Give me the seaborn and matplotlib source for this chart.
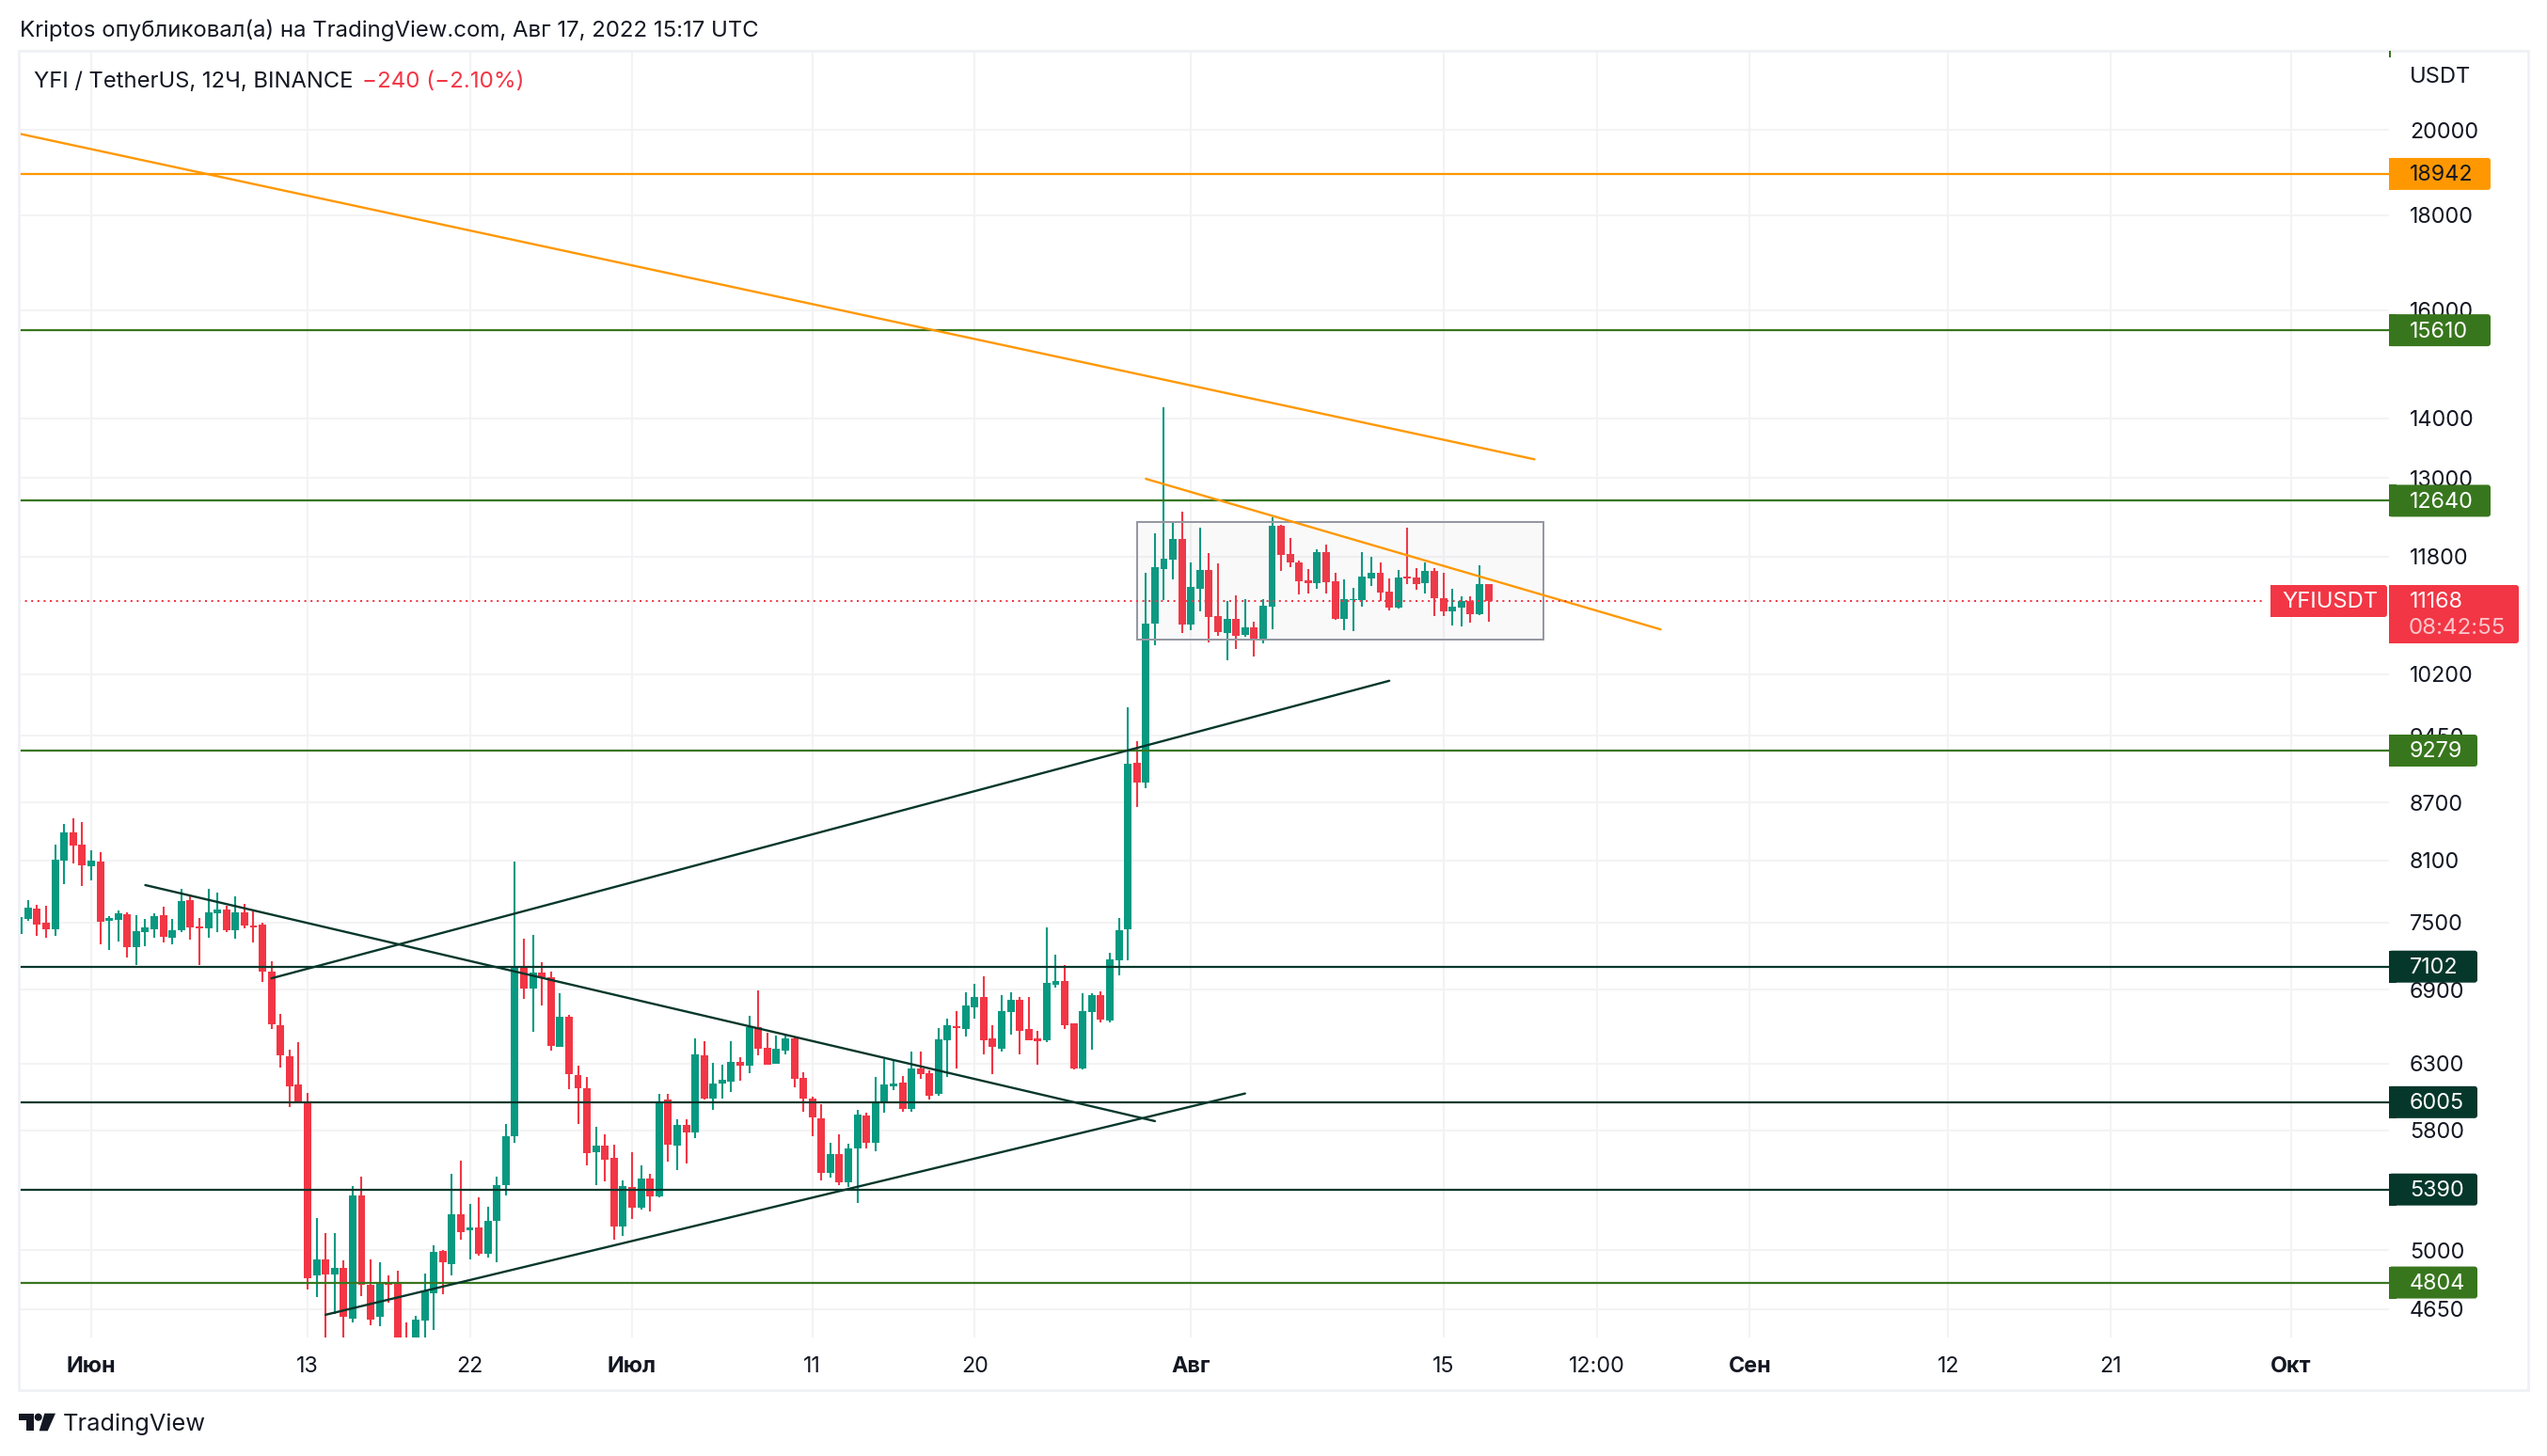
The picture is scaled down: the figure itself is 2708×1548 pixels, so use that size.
import numpy as np
import pandas as pd
import matplotlib
matplotlib.use("Agg")
import matplotlib.pyplot as plt
import seaborn as sns
from matplotlib.patches import FancyBboxPatch, Rectangle, Polygon, Circle
from matplotlib.ticker import NullLocator
from matplotlib.transforms import IdentityTransform

# candle number 0 is the Jun 1 00:00 bar, one candle = 12h
opens = [7391,7533,7631,7500,7440,8093,8387,8255,
    8044,8089,7514,7525,7576,7277,7416,7440,7569,7363,
    7433,7714,7464,7450,7587,7624,7433,7598,7471,7478,
    7058,6608,6359,6139,6006,4844,4944,4851,4892,4596,
    5352,4792,4603,4796,4803,4440,4400,4585,4743,4997,
    4916,5225,5122,5145,4980,5182,5421,5756,7091,6910,
    7051,7006,6434,6678,6209,6108,5647,5693,5607,5147,
    5408,5269,5463,5344,6024,5694,5839,5786,6363,6032,
    6144,6162,6314,6285,6592,6424,6298,6400,6497,6188,
    6034,5885,5499,5631,5437,5673,5907,5714,6004,6124,
    6151,5952,6264,6224,6069,6484,6598,6576,6753,6841,
    6500,6416,6716,6818,6576,6500,6484,6943,6977,6622,
    6258,6716,6858,6644,7158,7434,9140,8924,10859,11618,
    11757,12058,10850,11340,11604,10959,10737,10921,10708,10809,
    10658,11092,12255,11834,11712,11455,11419,11861,11441,10926,
    11180,11180,11482,11563,11297,11075,11509,11495,11414,11591,
    11206,11023,11075,11167,10984,11408]
highs = [7751,7711,7667,7660,8263,8475,8535,8495,
    8200,8181,7558,7613,7595,7569,7533,7587,7653,7533,
    7817,7762,7544,7817,7787,7660,7747,7678,7605,7496,
    7148,6700,6410,6467,6076,5202,5108,5108,4939,5416,
    5474,4944,4928,4844,4874,4574,4611,4860,5032,5000,
    5494,5588,5294,5339,5277,5476,5843,8089,7350,7384,
    7141,7058,6874,6690,6284,6194,5824,5770,5699,5450,
    5644,5555,5494,6066,6066,5880,5880,6497,6475,6303,
    6290,6475,6348,6679,6897,6543,6522,6522,6511,6232,
    6047,5992,5711,5771,5704,5949,5929,6196,6337,6329,
    6201,6395,6395,6248,6584,6657,6721,6880,6951,7018,
    6606,6855,6880,6838,6841,6560,7456,7211,7116,6624,
    6869,6872,6884,7222,7542,9789,9384,11563,12143,14192,
    12302,12472,11712,12227,11848,11699,11171,11240,11193,10884,
    11193,12384,12269,12072,11739,11617,11904,11969,11563,11468,
    11349,11861,11794,11712,11482,11604,12227,11630,11712,11630,
    11563,11336,11232,11232,11672,11408]
lows = [7339,7514,7381,7363,7381,7861,8071,7850,
    7906,7304,7250,7322,7184,7115,7284,7363,7315,7301,
    7416,7346,7115,7363,7416,7409,7356,7450,7315,6966,
    6574,6266,5970,5994,4760,4720,4490,4620,4470,4574,
    4726,4558,4552,4686,4400,4380,4380,4470,4530,4735,
    4844,5063,4942,4969,4955,4925,5349,5712,6827,6554,
    6769,6404,6431,6099,5843,5555,5421,5447,5068,5087,
    5195,5259,5244,5338,5582,5520,5569,5747,6024,5950,
    6034,6084,6167,6224,6361,6290,6296,6374,6116,5934,
    5760,5453,5467,5422,5404,5298,5673,5654,5929,6092,
    5932,5932,6178,6027,6054,6198,6264,6513,6660,6371,
    6217,6390,6530,6374,6482,6290,6465,6920,6571,6253,
    6250,6408,6630,6630,7027,7158,8657,8852,10575,11175,
    11473,10738,10775,11028,10612,10700,10381,10526,10687,10430,
    10600,10788,11595,11649,11262,11275,11340,11275,10909,10775,
    10763,11089,11379,11167,11036,11062,11400,11323,11271,10959,
    10959,10834,10821,10871,10971,10884]
closes = [7551,7642,7485,7440,8109,8387,8251,8051,
    8097,7511,7540,7587,7277,7423,7454,7562,7370,7430,
    7704,7454,7450,7598,7624,7430,7598,7471,7457,7055,
    6611,6362,6127,6006,4828,4944,4851,4892,4603,5352,
    4792,4591,4803,4788,4430,4410,4591,4750,4992,4925,
    5225,5115,5145,4978,5187,5421,5759,7098,6910,7048,
    7009,6440,6678,6215,6108,5641,5693,5594,5150,5416,
    5272,5461,5346,6014,5699,5837,5781,6369,6034,6144,
    6175,6314,6285,6592,6418,6292,6416,6500,6183,6034,
    5890,5499,5631,5437,5670,5914,5714,6004,6139,6144,
    5952,6261,6217,6054,6492,6606,6579,6770,6841,6484,
    6427,6721,6818,6562,6484,6475,6960,6977,6606,6258,
    6721,6858,6652,7164,7431,9130,8924,10859,11639,11767,
    12058,10850,11362,11604,10951,10750,10921,10695,10809,10658,
    11101,12255,11825,11717,11446,11419,11861,11428,10921,11188,
    11193,11509,11563,11284,11075,11495,11486,11401,11591,11206,
    11023,11089,11167,10984,11401,11168]

price_ticks = [20000, 18000, 16000, 14000, 13000, 11800, 10200, 9450, 8700, 8100, 7500, 6900, 6300, 5800, 5000, 4650]
time_ticks = [0, 24, 42, 60, 80, 98, 122, 150, 167, 184, 206, 224, 244]
time_labels = ["Июн", "13", "22", "Июл", "11", "20", "Авг", "15", "12:00", "Сен", "12", "21", "Окт"]
month_labels = ["Июн", "Июл", "Авг", "Сен", "Окт"]

level_values = [18942, 15610, 12640, 9279, 7102, 6005, 5390, 4804]
level_colors = ["#FF9800", "#38761D", "#38761D", "#38761D", "#06372B", "#06372B", "#06372B", "#38761D"]

# trend lines: candle numbers and prices of both ends
trend_x = [[-9, 160.1], [117, 174.1], [20, 144], [6, 118], [26, 128.0]]
trend_y = [[19958, 13306], [12988, 10780], [7000, 10116], [7856, 5866], [4616, 6070]]
trend_colors = ["#FF9800", "#FF9800", "#06372B", "#06372B", "#06372B"]

range_x = [116, 161.1]
range_y = [10650, 12312]

last_price = 11168

GREEN = "#089981"
RED = "#F23645"
GRID = "#F3F3F5"
FRAME = "#F0F1F5"
INK = "#131722"
W, H = 2708, 1548

sns.set_theme(style="white")
plt.rcParams["font.family"] = ["Inter", "DejaVu Sans"]

candles = pd.DataFrame({"open": opens, "high": highs, "low": lows, "close": closes})
candles["n"] = np.arange(-8, len(candles) - 8)
candles["color"] = np.where(candles["close"] > candles["open"], GREEN, RED)

fig = plt.figure(figsize=(W / 200, H / 200), dpi=200, facecolor="white")
ax = fig.add_axes([20 / W, (H - 1422) / H, 2520 / W, 1367 / H])
ax.set_yscale("log")
ax.set_xlim(-8.03, 254.9)
ax.set_ylim(4488, 22034)
ax.set_axisbelow(True)
sns.despine(ax=ax, left=True, bottom=True, right=True, top=True)

ax.yaxis.tick_right()
ax.yaxis.set_minor_locator(NullLocator())
ax.set_yticks(price_ticks, [str(p) for p in price_ticks])
ax.set_xticks(time_ticks, time_labels)
ax.tick_params(axis="y", length=0, pad=7.9, labelsize=8.4, labelcolor=INK)
ax.tick_params(axis="x", length=0, pad=7.2, labelsize=8.4, labelcolor=INK)
for lab in ax.get_xticklabels():
    if lab.get_text() in month_labels:
        lab.set_fontweight("bold")
ax.grid(True, color=GRID, lw=0.75)

# candles
ax.vlines(candles["n"], candles["low"], candles["high"], colors=candles["color"], lw=0.75, zorder=2)
body_low = candles[["open", "close"]].min(axis=1)
body_high = candles[["open", "close"]].max(axis=1)
ax.bar(candles["n"], body_high - body_low, bottom=body_low, width=0.83, color=candles["color"], lw=0, zorder=3)

ax.add_patch(Rectangle((range_x[0], range_y[0]), range_x[1] - range_x[0], range_y[1] - range_y[0],
                       fc="#9598A1", ec="none", alpha=0.05, zorder=4))
ax.add_patch(Rectangle((range_x[0], range_y[0]), range_x[1] - range_x[0], range_y[1] - range_y[0],
                       fill=False, ec="#9598A1", lw=0.72, zorder=4))

for v, c in zip(level_values, level_colors):
    ax.axhline(v, color=c, lw=0.8, zorder=5)
for xs, ys, c in zip(trend_x, trend_y, trend_colors):
    sns.lineplot(x=xs, y=ys, color=c, lw=0.85, ax=ax, estimator=None, legend=False, zorder=6)
ax.set_xlim(-8.03, 254.9)
ax.set_ylim(4488, 22034)
ax.set_xlabel("")
ax.set_ylabel("")
ax.axhline(last_price, xmax=0.948, color=RED, lw=0.72, ls=(0, (1, 2.3)), zorder=7)


def price_y(p):
    return ax.transData.transform((0, p))[1]


def put_box(x0, x1, y0, y1, color):
    # rounded on the right, flush with the pane on the left
    fig.add_artist(FancyBboxPatch((x0, y0), x1 - x0, y1 - y0, boxstyle="round,pad=0,rounding_size=3",
                                  fc=color, ec="none", transform=IdentityTransform(), zorder=3))
    fig.add_artist(Rectangle((x0, y0), 8, y1 - y0, fc=color, ec="none", transform=IdentityTransform(), zorder=3))


def put_text(x, y, s, color=INK, size=8.4, **kw):
    fig.text(x, y, s, color=color, fontsize=size, va="center", ha=kw.pop("ha", "left"),
             transform=IdentityTransform(), zorder=4, **kw)


for v, c in zip(level_values, level_colors):
    y = price_y(v)
    x1 = 2648 if v >= 10000 else 2634
    put_box(2540, x1, y - 17, y + 17, c)
    put_text(2562, y - 1.5, str(v), color=INK if c == "#FF9800" else "white")

# last price tags
put_box(2414, 2538, H - 656, H - 622, RED)
put_box(2540, 2678, H - 684, H - 622, RED)
put_text(2426, H - 639.5, "YFIUSDT", color="white", size=8.55)
put_text(2562, H - 639.5, str(last_price), color="white")
put_text(2561, H - 668, "08:42:55", color="#FBC5CB", size=8.7)

put_text(2562, H - 82, "USDT", size=8.55)
put_text(20.6, H - 32, "Kriptos опубликовал(а) на TradingView.com, Авг 17, 2022 15:17 UTC", size=8.63)
put_text(36, H - 87, "YFI / TetherUS, 12Ч, BINANCE", size=8.55)
put_text(385, H - 87, "−240 (−2.10%)", color=RED, size=8.7)
put_text(67, H - 1514, "TradingView", size=9.15)

# pane frame
ident = IdentityTransform()
fig.add_artist(Rectangle((19.5, H - 1478), 2668.5, 1424, fill=False, ec=FRAME, lw=1.0, transform=ident, zorder=1))
# stub of a level label above the visible range
fig.add_artist(Rectangle((2540, H - 61), 2, 7, fc="#38761D", ec="none", transform=ident, zorder=3))

# logo
fig.add_artist(Polygon([(20, H - 1502.7), (36, H - 1502.7), (36, H - 1521.3), (28.3, H - 1521.3), (28.3, H - 1510), (20, H - 1510)],
                       fc=INK, ec="none", transform=ident, zorder=3))
fig.add_artist(Circle((40.7, H - 1506.7), 4, fc=INK, ec="none", transform=ident, zorder=3))
fig.add_artist(Polygon([(47.3, H - 1502.7), (59, H - 1502.7), (50.7, H - 1521.3), (41.7, H - 1521.3)],
                       fc=INK, ec="none", transform=ident, zorder=3))

fig.savefig("out.png", dpi=200, facecolor="white")
